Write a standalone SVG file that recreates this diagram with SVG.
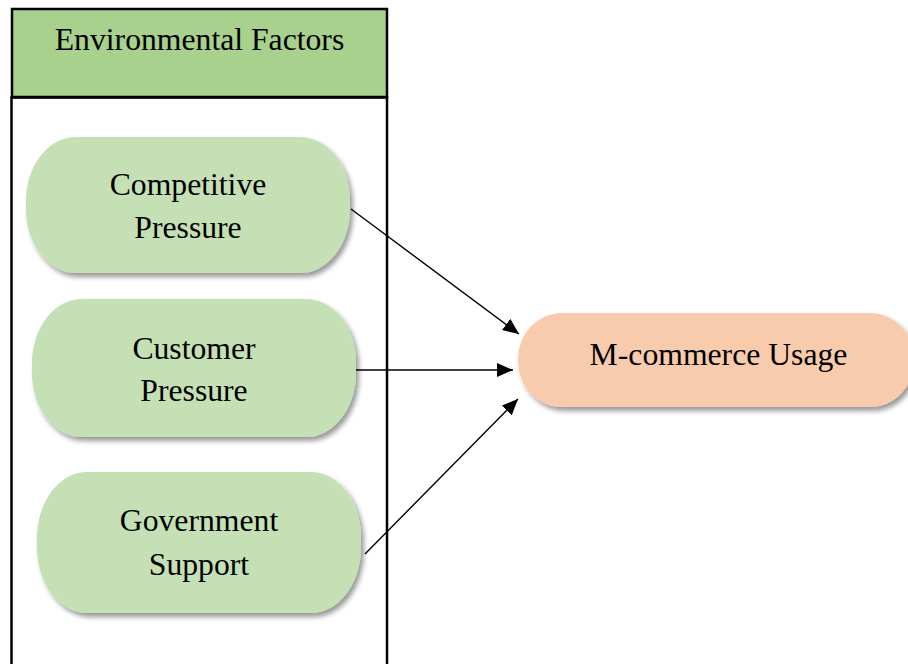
<svg xmlns="http://www.w3.org/2000/svg" width="908" height="664" viewBox="0 0 908 664">
  <style>
    .lbl { font-family: "Liberation Serif", "Times New Roman", serif; font-size: 31.7px; fill: #000; text-anchor: middle; }
    .frame { fill: none; stroke: #000; stroke-width: 2.5; }
    .factor { fill: #c5e0b4; filter: url(#shadow); }
    .outcome { fill: #f8cbad; filter: url(#shadow); }
    .link { stroke: #000; stroke-width: 1.4; fill: none; marker-end: url(#arrow); }
  </style>
  <defs>
    <filter id="shadow" x="-10%" y="-10%" width="130%" height="140%">
      <feDropShadow dx="3" dy="4" stdDeviation="2.5" flood-color="#000" flood-opacity="0.4"/>
    </filter>
    <marker id="arrow" viewBox="0 0 16 14" refX="16" refY="7" markerWidth="16" markerHeight="14" markerUnits="userSpaceOnUse" orient="auto">
      <path d="M0,0 L16,7 L0,14 z" fill="#000"/>
    </marker>
  </defs>
  <rect width="908" height="664" fill="#fff"/>

  <!-- Container for the environmental factors -->
  <g id="environmental-factors">
    <rect x="12" y="9" width="375" height="88" fill="#a9d18e" stroke="#000" stroke-width="2.5"/>
    <text class="lbl" x="199.5" y="50">Environmental Factors</text>
    <path class="frame" d="M11.5,670 V97.5 H387 V670"/>
  </g>

  <g id="competitive-pressure">
    <rect class="factor" x="26" y="137" width="324" height="136" rx="50" ry="64"/>
    <text class="lbl" x="188" y="195">Competitive</text>
    <text class="lbl" x="188" y="238">Pressure</text>
  </g>

  <g id="customer-pressure">
    <rect class="factor" x="32" y="299" width="324" height="138" rx="50" ry="64"/>
    <text class="lbl" x="194" y="359">Customer</text>
    <text class="lbl" x="194" y="401">Pressure</text>
  </g>

  <g id="government-support">
    <rect class="factor" x="37" y="472" width="324" height="141" rx="50" ry="66"/>
    <text class="lbl" x="199" y="531">Government</text>
    <text class="lbl" x="199" y="575">Support</text>
  </g>

  <g id="m-commerce-usage">
    <rect class="outcome" x="518" y="313" width="396" height="94" rx="44" ry="46"/>
    <text class="lbl" x="718.5" y="365">M-commerce Usage</text>
  </g>

  <g id="connectors">
    <line class="link" x1="351" y1="209" x2="519" y2="334"/>
    <line class="link" x1="356" y1="370" x2="513" y2="370"/>
    <line class="link" x1="365" y1="554" x2="518" y2="399"/>
  </g>
</svg>
